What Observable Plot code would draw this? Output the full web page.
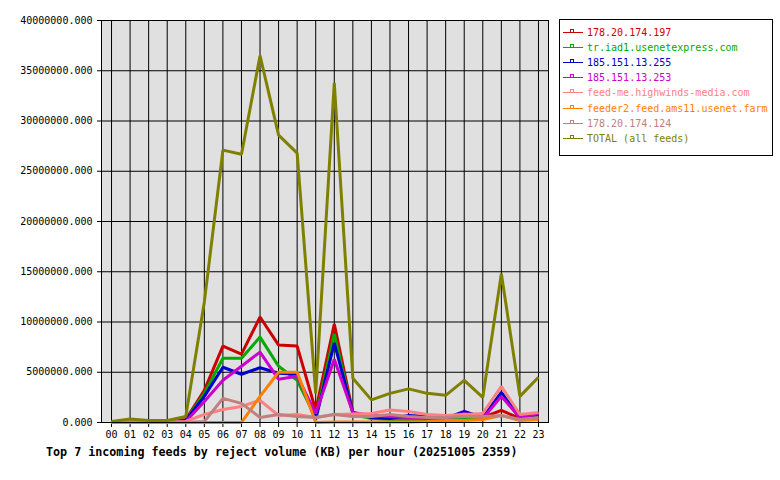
<!DOCTYPE html>
<html>
<head>
<meta charset="utf-8">
<script src="https://cdn.jsdelivr.net/npm/d3@7"></script>
<script src="https://cdn.jsdelivr.net/npm/@observablehq/plot@0.6"></script>
<style>
  html, body { margin: 0; padding: 0; background: white; }
  #wrap { position: relative; width: 780px; height: 480px; }
  #legend { position: absolute; left: 559px; top: 19px; width: 212px; height: 130px;
            border: 1px solid black; background: white; box-sizing: content-box;
            padding-top: 5px; font-family: "DejaVu Sans Mono", monospace; font-size: 10px; }
  .row { height: 15.1px; display: flex; align-items: center; white-space: nowrap; }
  .row svg { flex: none; }
  #title { position: absolute; left: 46px; top: 445px; font-family: "DejaVu Sans Mono", monospace;
           font-weight: bold; font-size: 11.7px; line-height: 14px; white-space: nowrap; color: black; }
</style>
</head>
<body>
<div id="wrap"></div>
<script>
const hours = ["00","01","02","03","04","05","06","07","08","09","10","11","12","13","14","15","16","17","18","19","20","21","22","23"];
const yTicks = [0, 5000000, 10000000, 15000000, 20000000, 25000000, 30000000, 35000000, 40000000];

const names = ["178.20.174.197", "tr.iad1.usenetexpress.com", "185.151.13.255", "185.151.13.253",
               "feed-me.highwinds-media.com", "feeder2.feed.ams11.usenet.farm", "178.20.174.124", "TOTAL (all feeds)"];
const colors = ["#cc0000", "#00aa00", "#0000cc", "#cc00cc", "#ff8080", "#ff8000", "#c08080", "#808000"];

const feed197   = [0,0,0,0,300000,3200000,7600000,6800000,10500000,7700000,7600000,1200000,9800000,1000000,500000,400000,400000,300000,300000,400000,500000,1200000,400000,600000];
const feedIad1  = [0,0,0,0,200000,2900000,6400000,6400000,8500000,5600000,4200000,500000,8800000,800000,400000,300000,300000,300000,300000,400000,400000,2900000,400000,800000];
const feed255   = [0,0,0,0,200000,2600000,5500000,4800000,5450000,4900000,4800000,300000,7900000,1000000,500000,400000,700000,600000,400000,1100000,500000,3000000,500000,800000];
const feed253   = [0,0,0,0,100000,2100000,4200000,5600000,7000000,4300000,4600000,900000,6300000,1000000,700000,600000,500000,400000,500000,900000,400000,2600000,500000,900000];
const feedHw    = [0,50000,50000,50000,100000,800000,1300000,1600000,2200000,700000,800000,500000,800000,850000,900000,1250000,1100000,800000,700000,800000,900000,3600000,800000,1000000];
const feedAms   = [0,0,0,0,0,0,0,0,2600000,5000000,5000000,0,50000,50000,50000,50000,50000,100000,200000,200000,300000,700000,200000,300000];
const feed124   = [0,100000,50000,50000,0,100000,2400000,1900000,500000,800000,600000,500000,800000,600000,600000,800000,600000,500000,500000,600000,600000,700000,300000,500000];
const feedTotal = [100000,350000,200000,200000,600000,12000000,27100000,26700000,36500000,28600000,26800000,2900000,33800000,4400000,2250000,2900000,3350000,2900000,2700000,4200000,2500000,14800000,2600000,4500000];

const seriesValues = [feed197, feedIad1, feed255, feed253, feedHw, feedAms, feed124, feedTotal];
const hourIdx = hours.map((h, i) => i);

const lineMarks = seriesValues.map((vals, s) =>
  Plot.line(vals.map((v, i) => ({x: i, y: v})), {x: "x", y: "y", stroke: colors[s], strokeWidth: 3, strokeLinejoin: "miter", strokeLinecap: "butt"})
);

const chart = Plot.plot({
  width: 780,
  height: 480,
  marginLeft: 101,
  marginRight: 232,
  marginTop: 20,
  marginBottom: 58,
  style: {background: "white", fontFamily: "DejaVu Sans Mono, monospace", fontSize: "10px", color: "black", overflow: "visible"},
  x: {type: "linear", domain: [-0.54, 23.54]},
  y: {domain: [0, 40000000]},
  marks: [
    Plot.frame({fill: "#e0e0e0"}),
    Plot.gridX({ticks: hourIdx, stroke: "black", strokeOpacity: 1, strokeWidth: 1}),
    Plot.gridY({ticks: yTicks, stroke: "black", strokeOpacity: 1, strokeWidth: 1}),
    Plot.axisX({ticks: hourIdx, tickFormat: i => hours[i], tickSize: 5, tickPadding: 3, stroke: "black", label: null}),
    Plot.axisY({ticks: yTicks, tickFormat: d3.format(".3f"), tickSize: 4, tickPadding: 5, stroke: "black", label: null}),
    ...lineMarks,
    Plot.frame({stroke: "black", strokeWidth: 1})
  ]
});

const wrap = document.getElementById("wrap");
wrap.appendChild(chart);

const legend = document.createElement("div");
legend.id = "legend";
names.forEach((n, s) => {
  const row = document.createElement("div");
  row.className = "row";
  row.innerHTML = `<svg width="27" height="15"><line x1="3" x2="23" y1="7.5" y2="7.5" stroke="${colors[s]}" stroke-width="1"/><rect x="10.5" y="4.5" width="3" height="3" fill="none" stroke="${colors[s]}" stroke-width="1"/></svg><span style="color:${colors[s]}">${n}</span>`;
  legend.appendChild(row);
});
wrap.appendChild(legend);

const title = document.createElement("div");
title.id = "title";
title.textContent = "Top 7 incoming feeds by reject volume (KB) per hour (20251005 2359)";
wrap.appendChild(title);
</script>
</body>
</html>
